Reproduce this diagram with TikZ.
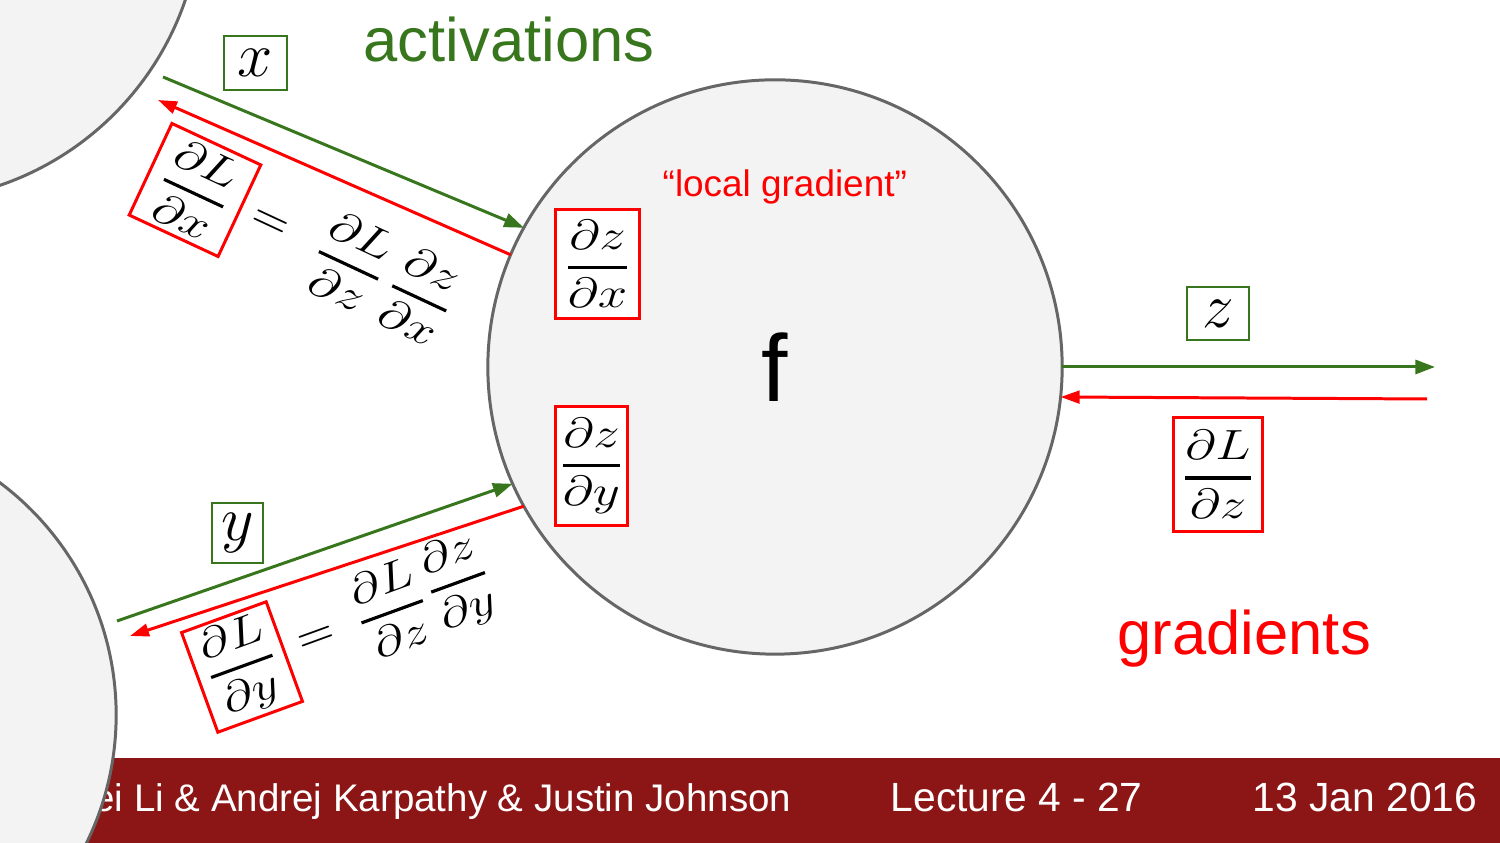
\RequirePackage{fix-cm}
\documentclass[tikz,border=0pt]{standalone}
\usepackage{amsmath}
\usepackage{graphicx}
\usepackage[no-math]{fontspec}
\setmainfont{Liberation Sans}
\usepackage{xcolor}
\usetikzlibrary{arrows.meta,positioning}
\definecolor{actgreen}{HTML}{38761D}
\definecolor{gradred}{HTML}{FF0000}
\definecolor{footred}{HTML}{8C1515}
\definecolor{nodegray}{HTML}{F3F3F3}
\definecolor{edgegray}{HTML}{666666}
% a stretched fraction with a heavy bar
\newcommand{\gradfrac}[2]{\scalebox{1.25}[1]{$\displaystyle\genfrac{}{}{0.9pt}{0}{#1}{#2}$}}
\tikzset{
    %Define style for the gates
    gate/.style={
        circle,
        draw=edgegray, line width=0.85pt,
        fill=nodegray,
        inner sep=0pt, outer sep=0pt,
    },
    vbox/.style={
        rectangle,
        draw=actgreen, line width=0.75pt,
        fill=white,
        inner sep=0pt,
        font=\fontsize{18}{20}\selectfont,
    },
    gbox/.style={
        rectangle,
        draw=gradred, line width=0.85pt,
        fill=white,
        inner sep=0pt,
        font=\fontsize{12}{14}\selectfont,
    },
    eqn/.style={
        inner sep=0pt,
        font=\fontsize{12}{14}\selectfont,
    },
    txt/.style={
        inner sep=0pt,
        anchor=base west,
    },
    footer/.style={
        text=white,
        inner sep=0pt,
        font=\fontsize{11.6}{14}\selectfont,
    },
    fwd/.style={
        draw=actgreen, line width=0.85pt,
        -{Triangle[length=5.6pt,width=4pt]},
    },
    bwd/.style={
        draw=gradred, line width=0.85pt,
        -{Triangle[length=5.4pt,width=3.6pt]},
    },
}

\begin{document}
\begin{tikzpicture}[x=0.01cm,y=0.01cm]
		\clip (0,0) rectangle (1500,843);
		% footer
		\fill[footred] (0,0) rectangle (1500,85);
		\node[footer, anchor=base east, font=\fontsize{10.95}{14}\selectfont] (names) at (792,31) {Fei-Fei Li \& Andrej Karpathy \& Justin Johnson};
		\node[footer, anchor=base west] (lec) at (890,31) {Lecture 4 - 27};
		\node[footer, anchor=base east] (date) at (1478,31) {13 Jan 2016};

		\node[gate, minimum size=5.8cm] (in2) at (-174,128) {};
		\node[gate, minimum size=5.94cm] (in1) at (-96,939) {};
		\node[gate, minimum size=5.74cm, font=\fontsize{27}{30}\selectfont] (f) at (775,476) {f};

		\node[txt, text=actgreen, font=\fontsize{17.5}{20}\selectfont] (act) at (363,781) {activations};
		\node[txt, text=gradred, font=\fontsize{17.5}{20}\selectfont] (grad) at (1117,188) {gradients};
		\node[txt, text=gradred, font=\fontsize{10.5}{12}\selectfont] (loc) at (662,646) {“local gradient”};

		\node[vbox, minimum width=0.63cm, minimum height=0.54cm] (x) at (255.5,780) {$x$};
		\node[vbox, minimum width=0.51cm, minimum height=0.6cm] (y) at (237.5,310) {$y$};
		\node[vbox, minimum width=0.62cm, minimum height=0.53cm] (z) at (1218,529.5) {$z$};

		\node[gbox, minimum width=0.83cm, minimum height=1.08cm] (dzdx) at (597.5,579) {\gradfrac{\partial z}{\partial x}};
		\node[gbox, minimum width=0.71cm, minimum height=1.18cm] (dzdy) at (591.5,377) {\gradfrac{\partial z}{\partial y}};
		\node[gbox, minimum width=0.88cm, minimum height=1.13cm] (dLdz) at (1218,368.5) {\gradfrac{\partial L}{\partial z}};

		% chain rule for x
		\begin{scope}[shift={(195,653)}, rotate=-25, transform shape]
			\node[gbox, minimum width=0.98cm, minimum height=1.01cm] (dLdx) at (0,0) {\gradfrac{\partial L}{\partial x}};
			\node[eqn, font=\fontsize{14}{16}\selectfont] (eqx) at (82,0) {$=$};
			\node[eqn] (ax) at (171,0) {\gradfrac{\partial L}{\partial z}};
			\node[eqn] (bx) at (249,0) {\gradfrac{\partial z}{\partial x}};
		\end{scope}
		% chain rule for y
		\begin{scope}[shift={(242,176)}, rotate=20, transform shape]
			\node[gbox, minimum width=0.9cm, minimum height=1.06cm] (dLdy) at (0,0) {\gradfrac{\partial L}{\partial y}};
			\node[eqn, font=\fontsize{14}{16}\selectfont] (eqy) at (80,0) {$=$};
			\node[eqn] (ay) at (160,4) {\gradfrac{\partial L}{\partial z}};
			\node[eqn] (by) at (232,5) {\gradfrac{\partial z}{\partial y}};
		\end{scope}

		\coordinate (xs) at (163,766);
		\coordinate (xe) at (158,743);
		\coordinate (ys) at (117,222);
		\coordinate (ye) at (130,207);
		\coordinate (zs) at (1435,476);
		\coordinate (ze) at (1427,444);

		\draw[fwd] (xs) -- (f.151.4);
		\draw[bwd] (f.157.1) -- (xe);
		\draw[fwd] (ys) -- (f.204.9);
		\draw[bwd] (f.209.3) -- (ye);
		\draw[fwd] (f.0) -- (zs);
		\draw[bwd] (ze) -- (f.-6.4);
	\end{tikzpicture}
\end{document}
